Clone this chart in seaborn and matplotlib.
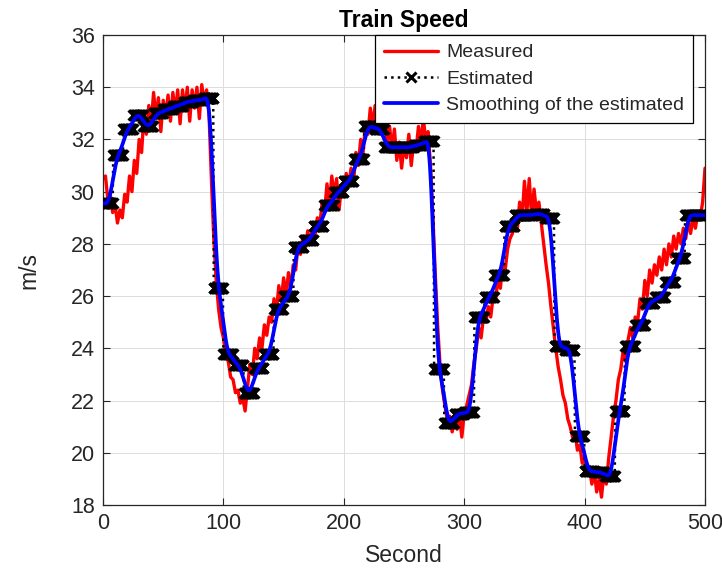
import numpy as np
import pandas as pd
import seaborn as sns
import matplotlib
matplotlib.use("Agg")
import matplotlib.pyplot as plt

# ---- data -------------------------------------------------------------
# Measured speed, sampled every 2 s from 0 to 500 s
meas_step = 2
measured = [
    30.5, 30.6, 29.7, 29.9, 29.2, 29.5, 28.8, 29.3, 29.0, 29.9,
    29.6, 30.6, 30.0, 31.2, 30.7, 32.0, 31.5, 32.9, 32.2, 33.3,
    32.6, 33.8, 32.8, 33.6, 32.3, 33.5, 32.9, 33.7, 32.7, 33.8,
    33.0, 33.9, 32.6, 33.9, 33.1, 34.0, 32.7, 33.9, 33.2, 34.0,
    32.8, 34.1, 33.4, 33.9, 33.0, 30.5, 28.2, 26.6, 25.5, 24.8,
    24.4, 23.7, 23.5, 22.9, 22.8, 22.3, 22.4, 21.9, 22.1, 21.6,
    22.5, 23.4, 23.0, 24.0, 23.6, 24.4, 24.0, 24.9, 24.5, 25.2,
    25.0, 25.9, 25.4, 26.4, 25.8, 26.7, 26.0, 26.9, 26.3, 27.2,
    27.0, 28.0, 27.6, 28.3, 27.8, 28.5, 28.0, 28.6, 28.3, 29.0,
    28.7, 29.6, 29.2, 30.3, 29.5, 30.6, 29.8, 30.5, 29.3, 30.2,
    29.8, 30.7, 30.2, 30.9, 30.3, 31.5, 31.0, 32.0, 31.5, 32.6,
    32.2, 33.2, 32.5, 33.3, 32.4, 33.0, 32.2, 32.8, 31.9, 32.5,
    31.6, 32.4, 31.2, 31.9, 30.9, 31.8, 31.3, 32.2, 31.0, 31.9,
    31.6, 32.5, 31.8, 32.8, 32.0, 32.3, 31.0, 29.0, 26.8, 24.8,
    23.3, 22.4, 21.8, 21.2, 21.4, 20.8, 21.3, 20.9, 21.4, 20.6,
    21.5, 21.8, 22.2, 22.6, 23.4, 24.0, 24.8, 24.4, 25.2, 25.0,
    25.6, 25.2, 26.0, 25.8, 26.7, 26.3, 27.2, 27.0, 27.8, 28.2,
    28.4, 29.0, 28.5, 29.6, 28.9, 30.4, 29.2, 30.5, 29.0, 30.1,
    29.2, 29.6, 28.8, 28.0, 27.2, 26.5, 25.6, 24.8, 24.0, 23.3,
    22.8, 22.2, 21.9, 21.3, 21.0, 20.6, 20.8, 20.1, 20.3, 19.6,
    19.9, 19.2, 19.4, 18.8, 19.3, 18.5, 19.0, 18.3, 19.2, 18.8,
    19.8, 20.6, 21.4, 22.0, 22.8, 23.2, 23.9, 23.5, 24.3, 24.8,
    24.4, 25.2, 25.0, 25.9, 25.5, 26.6, 26.0, 27.0, 26.5, 27.2,
    26.8, 27.5, 27.0, 27.8, 27.2, 28.0, 27.5, 28.3, 27.8, 28.4,
    28.0, 28.6, 28.2, 28.9, 28.4, 29.0, 28.6, 29.2, 29.0, 29.6,
    30.9,
]

# Estimated speed: one value held for each 25/3 s estimation window
est_window = 25 / 3
estimated = [
    29.55, 31.4, 32.4, 32.95, 32.5, 33.0, 33.15, 33.3, 33.45, 33.5,
    33.6, 26.3, 23.8, 23.35, 22.3, 23.25, 23.8, 25.5, 26.0, 27.9,
    28.15, 28.7, 29.5, 30.0, 30.4, 31.25, 32.5, 32.4, 31.7, 31.7,
    31.7, 31.8, 31.95, 23.2, 21.15, 21.5, 21.55, 25.2, 25.95, 26.8,
    28.7, 29.1, 29.1, 29.15, 29.0, 24.1, 23.95, 20.65, 19.3, 19.25,
    19.1, 21.6, 24.1, 24.9, 25.75, 25.95, 26.55, 27.45, 29.1, 29.1,
]
est_sample = 0.5  # s between plotted estimate samples

x_ticks = [0, 100, 200, 300, 400, 500]
y_ticks = [18, 20, 22, 24, 26, 28, 30, 32, 34, 36]

# ---- tables -----------------------------------------------------------
meas_df = pd.DataFrame({
    "Second": np.arange(len(measured)) * meas_step,
    "m/s": measured,
})

t_est = np.arange(0, 500 + est_sample, est_sample, dtype=float)
win_idx = np.minimum((t_est / est_window).astype(int), len(estimated) - 1)
est_vals = np.asarray(estimated)[win_idx]
est_df = pd.DataFrame({"Second": t_est, "m/s": est_vals})

# Smoothing of the estimate: Hann-weighted moving average (~7 s wide)
kern = np.hanning(29)
kern /= kern.sum()
half = len(kern) // 2
smooth_vals = np.convolve(np.pad(est_vals, half, mode="edge"), kern, mode="valid")
smooth_df = pd.DataFrame({"Second": t_est, "m/s": smooth_vals})

# ---- figure -----------------------------------------------------------
sns.set_theme(style="whitegrid")
plt.rcParams["font.family"] = ["Liberation Sans", "DejaVu Sans"]

fig = plt.figure(figsize=(7.22, 5.74), dpi=100)
ax = fig.add_axes([0.1427, 0.1202, 0.8338, 0.8188])
ax.set_facecolor("white")

sns.lineplot(data=meas_df, x="Second", y="m/s", ax=ax, color="#ff0000",
             linewidth=2.4, label="Measured", zorder=2)
sns.lineplot(data=est_df, x="Second", y="m/s", ax=ax, color="black",
             linewidth=1.8, linestyle=":", marker="x", markersize=7.5,
             markeredgewidth=2.2, markeredgecolor="black",
             label="Estimated", zorder=3)
sns.lineplot(data=smooth_df, x="Second", y="m/s", ax=ax, color="#0000ff",
             linewidth=2.7, label="Smoothing of the estimated", zorder=4)

ax.set_xlim(0, 500)
ax.set_ylim(18, 36)
ax.set_xticks(x_ticks)
ax.set_yticks(y_ticks)

txt = "#262626"
ax.tick_params(axis="both", which="both", direction="in", length=5,
               width=0.8, colors=txt, labelsize=15.5,
               top=True, right=True, bottom=True, left=True, pad=6)
ax.grid(True, color="#dcdcdc", linewidth=0.7)
for s in ax.spines.values():
    s.set_visible(True)
    s.set_color(txt)
    s.set_linewidth(0.9)

ax.set_xlabel("Second", fontsize=16.5, color=txt, labelpad=7)
ax.set_ylabel("m/s", fontsize=16.5, color=txt, labelpad=22)
ax.set_title("Train Speed", fontsize=16.5, fontweight="bold", color="black", pad=6)

leg = ax.legend(loc="upper right", bbox_to_anchor=(0.98, 1.0),
                borderaxespad=0, fontsize=14, frameon=True, fancybox=False,
                handlelength=2.8, handletextpad=0.4, labelspacing=0.45,
                borderpad=0.45, numpoints=1)
leg.get_frame().set_edgecolor("black")
leg.get_frame().set_linewidth(0.9)
leg.get_frame().set_alpha(1)

fig.savefig("out.png", dpi=100, facecolor="white")
